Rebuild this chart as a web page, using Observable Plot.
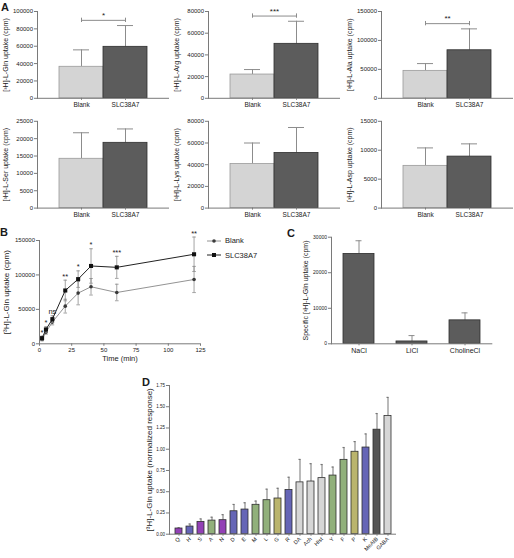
<!DOCTYPE html>
<html><head><meta charset="utf-8">
<script src="https://cdn.jsdelivr.net/npm/d3@7"></script>
<script src="https://cdn.jsdelivr.net/npm/@observablehq/plot@0.6"></script>
<style>
html,body{margin:0;padding:0;background:#fff;}
#fig{position:relative;width:514px;height:558px;overflow:hidden;font-family:"Liberation Sans",Arial,Helvetica,sans-serif;color:#1a1a1a;}
.panel{position:absolute;}
.letter{position:absolute;font-weight:bold;font-size:11px;line-height:12px;}
.leg{position:absolute;display:flex;align-items:center;font-size:7.5px;white-space:nowrap;}
.leg svg{margin-right:4px;}
</style></head><body><div id="fig"></div>
<script>
// ---------- DATA ----------
const groups = ["Blank", "SLC38A7"];
const glnMean = [36300, 59300], glnErr = [19500, 24500];
const argMean = [21900, 50200], argErr = [4600, 20800];
const alaMean = [47400, 83000], alaErr = [12600, 37000];
const serMean = [14200, 18800], serErr = [7500, 4000];
const lysMean = [40600, 50800], lysErr = [19400, 23500];
const aspMean = [7300, 8900], aspErr = [3100, 2200];
const glnTicks = [0, 20000, 40000, 60000, 80000, 100000];
const argTicks = [0, 20000, 40000, 60000, 80000];
const alaTicks = [0, 50000, 100000, 150000];
const serTicks = [0, 5000, 10000, 15000, 20000, 25000];
const lysTicks = [0, 20000, 40000, 60000, 80000];
const aspTicks = [0, 5000, 10000, 15000];

const times = [2, 5, 10, 20, 30, 40, 60, 120];
const blankB = [6300, 16900, 31500, 54700, 73600, 82800, 74500, 93400];
const blankBErr = [2000, 3000, 4000, 10000, 17000, 12000, 12000, 19000];
const slcB = [8200, 20800, 35800, 77400, 93900, 113000, 111000, 130000];
const slcBErr = [3000, 4000, 5000, 15000, 12000, 25000, 16000, 25000];
const sigB = ["*", "*", "ns", "**", "*", "*", "***", "**"];
const timeTicks = [0, 25, 50, 75, 100, 125];
const bTicks = [0, 50000, 100000, 150000];

const salts = ["NaCl", "LiCl", "CholineCl"];
const saltMean = [25300, 660, 6600];
const saltErr = [3700, 1650, 2100];
const saltTicks = [0, 10000, 20000, 30000];

const aa = ["Q","H","S","A","N","D","E","M","L","G","R","DA","Ach","Hist","Y","F","P","K","MeAIB","GABA"];
const dMean = [0.067,0.09,0.145,0.16,0.165,0.27,0.29,0.346,0.40,0.42,0.52,0.61,0.62,0.66,0.69,0.875,0.97,1.02,1.23,1.39];
const dErr = [0.008,0.03,0.035,0.04,0.065,0.08,0.08,0.044,0.13,0.12,0.15,0.27,0.21,0.16,0.10,0.145,0.12,0.16,0.19,0.22];
const dClass = ["purple","blue","purple","green","purple","blue","blue","green","green","olive","blue","light","light","light","green","green","olive","blue","dark","light"];
const dTicks = [0, 0.25, 0.5, 0.75, 1, 1.25, 1.5, 1.75];

// ---------- STYLE ----------
const FONT = '"Liberation Sans", Arial, Helvetica, sans-serif';
const AX = "#7a7a7a", ERR = "#8c8c8c", INK = "#1a1a1a";
const barFill = {Blank: "#d4d4d4", SLC38A7: "#5c5c5c"};
const barStroke = {Blank: "#9a9a9a", SLC38A7: "#2e2e2e"};
const classColor = {purple: "#9341b6", blue: "#6565b6", green: "#91b07b", olive: "#bab46d", light: "#d6d6d6", dark: "#555555"};
const svgStyle = {fontFamily: FONT, background: "transparent", overflow: "visible", maxWidth: "none"};
const capSym = {draw(ctx, size) { const w = Math.sqrt(size / Math.PI); ctx.moveTo(-w, 0); ctx.lineTo(w, 0); }};

const fig = document.getElementById("fig");
function place(node, left, top) {
  const d = document.createElement("div");
  d.className = "panel"; d.style.left = left + "px"; d.style.top = top + "px";
  d.appendChild(node); fig.appendChild(d);
}
function letter(t, left, top) {
  const d = document.createElement("div");
  d.className = "letter"; d.textContent = t; d.style.left = left + "px"; d.style.top = top + "px";
  fig.appendChild(d);
}
const yLabel = (label, dx, fontSize) => Plot.text([label], {frameAnchor: "left", text: d => d, rotate: -90, textAnchor: "middle", lineAnchor: "middle", dx, fontSize, fill: INK});

// ---------- PANEL A ----------
function panelA(mean, err, yMax, ticks, label, sig, top, marginRight) {
  const rows = groups.map((g, i) => ({g, m: mean[i], e: err[i]}));
  const hi = d3.max(rows, r => r.m + r.e);
  const by = hi + yMax * 0.06;
  const marks = [
    Plot.ruleX(rows, {x: "g", y1: "m", y2: r => r.m + r.e, stroke: ERR}),
    Plot.tickY(rows, {x: "g", y: r => r.m + r.e, stroke: ERR, insetLeft: 14, insetRight: 14}),
    Plot.barY(rows, {x: "g", y: "m", fill: r => barFill[r.g], stroke: r => barStroke[r.g], strokeWidth: 0.8}),
    Plot.ruleY([0], {stroke: AX}),
    Plot.frame({anchor: "left", stroke: AX}),
    Plot.axisY({ticks, tickFormat: d => String(d), tickSize: 3, tickPadding: 1.5, fontSize: 6, stroke: AX, fill: INK, label: null}),
    Plot.axisX({tickSize: 2, tickPadding: 2, fontSize: 6.5, stroke: AX, fill: INK, label: null}),
    yLabel(label, -31.5, 7)
  ];
  if (sig) marks.push(
    Plot.line(groups.map(g => ({g, y: by})), {x: "g", y: "y", stroke: ERR, strokeWidth: 1}),
    Plot.ruleX(groups, {x: d => d, y1: by - yMax * 0.025, y2: by + yMax * 0.025, stroke: ERR}),
    Plot.text([sig], {y: by, text: d => d, frameAnchor: "middle", dy: -2.5, lineAnchor: "bottom", fontSize: 8, fill: INK})
  );
  return Plot.plot({
    width: 37 + 132 + marginRight, height: 112,
    marginLeft: 37, marginRight, marginTop: top, marginBottom: 112 - top - 86.8,
    style: svgStyle,
    x: {domain: groups, paddingInner: 0, paddingOuter: 0.5},
    y: {domain: [0, yMax]},
    marks
  });
}
place(panelA(glnMean, glnErr, 100000, glnTicks, "[³H]-L-Gln uptake (cpm)", "*", 11, 6), 0, 0);
place(panelA(argMean, argErr, 80000, argTicks, "[³H]-L-Arg uptake (cpm)", "***", 11, 6), 171, 0);
place(panelA(alaMean, alaErr, 150000, alaTicks, "[³H]-L-Ala uptake (cpm)", "**", 11, 1), 344, 0);
place(panelA(serMean, serErr, 25000, serTicks, "[³H]-L-Ser uptake (cpm)", null, 10.8, 6), 0, 110);
place(panelA(lysMean, lysErr, 80000, lysTicks, "[³H]-L-Lys uptake (cpm)", null, 10.8, 6), 171, 110);
place(panelA(aspMean, aspErr, 15000, aspTicks, "[³H]-L-Asp uptake (cpm)", null, 10.8, 1), 344, 110);
letter("A", 1, 1);

// ---------- PANEL B ----------
const seriesB = [
  {name: "Blank", v: blankB, e: blankBErr, line: "#777", mark: "#3a3a3a", sym: "circle", r: 1.8, w: 0.8},
  {name: "SLC38A7", v: slcB, e: slcBErr, line: "#222", mark: "#111", sym: "square", r: 2.3, w: 1}
];
const marksB = [];
for (const s of seriesB) {
  const rows = times.map((t, i) => ({t, v: s.v[i], e: s.e[i]}));
  marksB.push(
    Plot.ruleX(rows, {x: "t", y1: r => r.v - r.e, y2: r => r.v + r.e, stroke: ERR, strokeWidth: 0.8}),
    Plot.dot(rows, {x: "t", y: r => r.v + r.e, symbol: capSym, r: 1.8, stroke: ERR, fill: "none", strokeWidth: 0.8}),
    Plot.dot(rows, {x: "t", y: r => r.v - r.e, symbol: capSym, r: 1.8, stroke: ERR, fill: "none", strokeWidth: 0.8}),
    Plot.line(rows, {x: "t", y: "v", stroke: s.line, strokeWidth: s.w}),
    Plot.dot(rows, {x: "t", y: "v", symbol: s.sym, r: s.r, fill: s.mark, stroke: "none"})
  );
}
const sigRows = times.map((t, i) => ({t, y: Math.max(blankB[i] + blankBErr[i], slcB[i] + slcBErr[i]), s: sigB[i]}));
marksB.push(
  Plot.text(sigRows, {x: "t", y: "y", text: "s", dy: -1.5, lineAnchor: "bottom", fontSize: 7.5, fill: INK}),
  Plot.ruleY([0], {stroke: AX}),
  Plot.ruleX([0], {stroke: AX}),
  Plot.axisY({ticks: bTicks, tickFormat: d => String(d), tickSize: 3, tickPadding: 1.5, fontSize: 6, stroke: AX, fill: INK, label: null}),
  Plot.axisX({ticks: timeTicks, tickSize: 2.5, tickPadding: 1.5, fontSize: 6, stroke: AX, fill: INK, label: null}),
  yLabel("[³H]-L-Gln uptake (cpm)", -33, 8),
  Plot.text(["Time (min)"], {frameAnchor: "bottom", text: d => d, dy: 15, lineAnchor: "middle", fontSize: 7.5, fill: INK})
);
place(Plot.plot({
  width: 260, height: 140, marginLeft: 39, marginRight: 60, marginTop: 15, marginBottom: 21.7,
  style: svgStyle,
  x: {domain: [0, 125]}, y: {domain: [0, 150000]},
  marks: marksB
}), 0, 225);
letter("B", 0, 226);
// legend B
function legendRow(s, top) {
  const d = document.createElement("div");
  d.className = "leg"; d.style.left = "207px"; d.style.top = top + "px";
  const ns = "http://www.w3.org/2000/svg";
  const svg = document.createElementNS(ns, "svg");
  svg.setAttribute("width", "14"); svg.setAttribute("height", "6");
  const ln = document.createElementNS(ns, "line");
  ln.setAttribute("x1", "0"); ln.setAttribute("x2", "14"); ln.setAttribute("y1", "3"); ln.setAttribute("y2", "3");
  ln.setAttribute("stroke", s.line); ln.setAttribute("stroke-width", s.w);
  svg.appendChild(ln);
  let m;
  if (s.sym === "square") {
    m = document.createElementNS(ns, "rect");
    m.setAttribute("x", "5"); m.setAttribute("y", "1"); m.setAttribute("width", "4"); m.setAttribute("height", "4");
  } else {
    m = document.createElementNS(ns, "circle");
    m.setAttribute("cx", "7"); m.setAttribute("cy", "3"); m.setAttribute("r", "1.8");
  }
  m.setAttribute("fill", s.mark);
  svg.appendChild(m);
  d.appendChild(svg);
  const tx = document.createElement("span"); tx.textContent = s.name;
  d.appendChild(tx);
  fig.appendChild(d);
}
legendRow(seriesB[0], 236);
legendRow(seriesB[1], 250.5);

// ---------- PANEL C ----------
const rowsC = salts.map((c, i) => ({c, m: saltMean[i], e: saltErr[i]}));
place(Plot.plot({
  width: 259, height: 140, marginLeft: 76, marginRight: 21.7, marginTop: 11.7, marginBottom: 21.7,
  style: svgStyle,
  x: {domain: salts, paddingInner: 0.42, paddingOuter: 0.23},
  y: {domain: [0, 30000]},
  marks: [
    Plot.ruleX(rowsC, {x: "c", y1: "m", y2: r => r.m + r.e, stroke: ERR}),
    Plot.tickY(rowsC, {x: "c", y: r => r.m + r.e, stroke: ERR, insetLeft: 12.5, insetRight: 12.5}),
    Plot.barY(rowsC, {x: "c", y: "m", fill: "#5c5c5c", stroke: "#2e2e2e", strokeWidth: 0.8}),
    Plot.ruleY([0], {stroke: AX}),
    Plot.frame({anchor: "left", stroke: AX}),
    Plot.axisY({ticks: saltTicks, tickFormat: d => String(d), tickSize: 3, tickPadding: 1.5, fontSize: 5, stroke: AX, fill: INK, label: null}),
    Plot.axisX({tickSize: 2, tickPadding: 2.5, fontSize: 7, stroke: AX, fill: INK, label: null}),
    yLabel("Specific [³H]-L-Gln uptake (cpm)", -26, 7)
  ]
}), 255, 225);
letter("C", 287, 227);

// ---------- PANEL D ----------
const rowsD = aa.map((a, i) => ({a, m: dMean[i], e: dErr[i], k: dClass[i]}));
place(Plot.plot({
  width: 310, height: 183, marginLeft: 69, marginRight: 14, marginTop: 10, marginBottom: 24.3,
  style: svgStyle,
  x: {domain: aa, paddingInner: 0.37, paddingOuter: 0.4},
  y: {domain: [0, 1.75]},
  marks: [
    Plot.ruleX(rowsD, {x: "a", y1: "m", y2: r => r.m + r.e, stroke: ERR, strokeWidth: 1.2}),
    Plot.tickY(rowsD, {x: "a", y: r => r.m + r.e, stroke: "#777", insetLeft: 2.5, insetRight: 2.5, strokeWidth: 1.2}),
    Plot.barY(rowsD, {x: "a", y: "m", fill: r => classColor[r.k], stroke: "#2e2e2e", strokeWidth: 0.8}),
    Plot.ruleY([0], {stroke: AX}),
    Plot.frame({anchor: "left", stroke: AX}),
    Plot.axisY({ticks: dTicks, tickFormat: d3.format(".2f"), tickSize: 3, tickPadding: 1.5, fontSize: 4.5, stroke: AX, fill: INK, label: null}),
    Plot.axisX({tickSize: 2, tickPadding: 2, fontSize: 5.5, tickRotate: -45, stroke: AX, fill: INK, label: null}),
    yLabel("[³H]-L-Gln uptake (normalized response)", -20, 8)
  ]
}), 100, 375);
letter("D", 142, 376);
</script></body></html>
